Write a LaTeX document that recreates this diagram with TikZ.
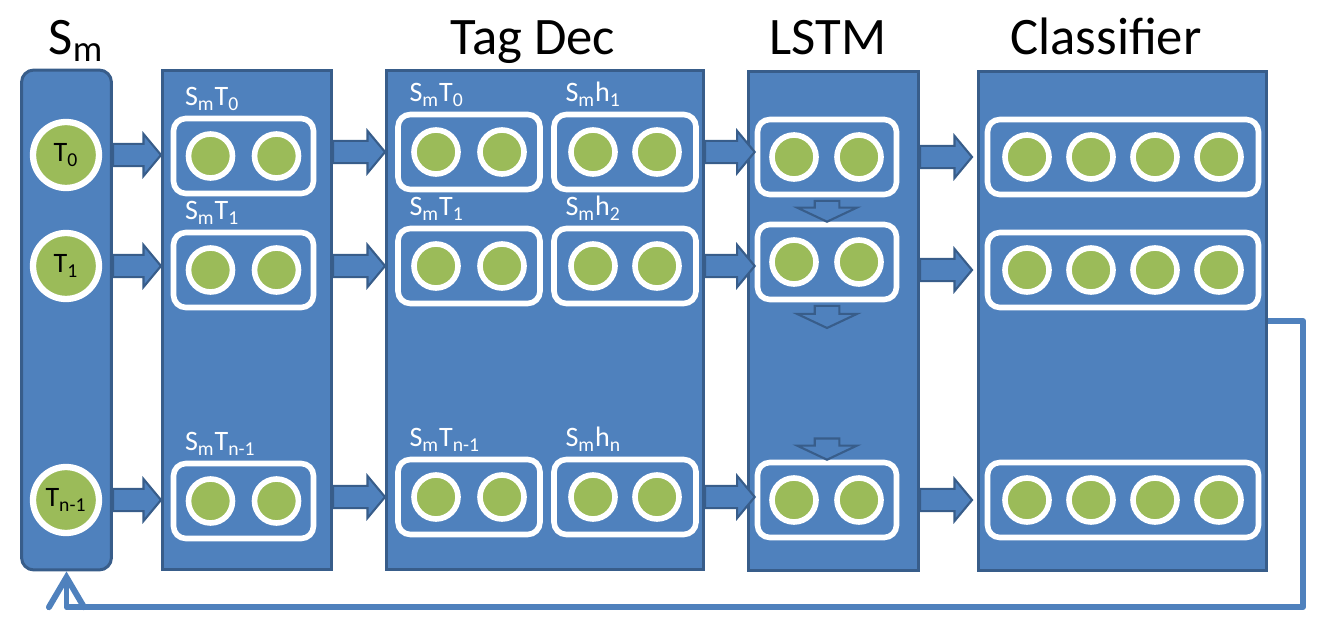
\documentclass[tikz,border=0pt]{standalone}
\usepackage{fontspec}
\setmainfont{Carlito}
\usetikzlibrary{arrows.meta,positioning,calc}
\definecolor{boxblue}{RGB}{79,129,189}
\definecolor{edgeblue}{RGB}{56,93,138}
\definecolor{dotgreen}{RGB}{155,187,89}

\begin{document}
\begin{tikzpicture}[
    x=0.02cm, y=-0.02cm,
    stage/.style={rectangle, draw=edgeblue, fill=boxblue, line width=1.7pt,
                  minimum height=10cm, inner sep=0pt},
    cell/.style={rectangle, draw=white, fill=boxblue, line width=3.2pt,
                 rounded corners=7pt, minimum height=1.5cm, inner sep=0pt},
    neuron/.style={circle, draw=white, fill=dotgreen, line width=3.2pt,
                   minimum size=0.88cm, inner sep=0pt},
    bigneuron/.style={neuron, line width=3.6pt, minimum size=1.32cm,
                      font=\fontsize{16}{16}\selectfont},
    ttl/.style={font=\fontsize{30}{30}\selectfont, anchor=base, inner sep=0pt},
    lbl/.style={text=white, font=\fontsize{16}{16}\selectfont, anchor=base west, inner sep=0pt},
    blockarr/.style={draw=edgeblue, fill=boxblue, line width=1.2pt,
      to path={let \p1=(\tikztostart), \p2=(\tikztotarget) in
        (\x1,\y1+6.3pt) -- (\x2-10pt,\y1+6.3pt) -- (\x2-10pt,\y1+12pt) -- (\x2,\y1)
        -- (\x2-10pt,\y1-12pt) -- (\x2-10pt,\y1-6.3pt) -- (\x1,\y1-6.3pt) -- cycle}},
    downarr/.style={draw=edgeblue, fill=boxblue, line width=1.2pt,
      to path={let \p1=(\tikztostart), \p2=(\tikztotarget) in
        (\x1-7pt,\y1-2pt) -- (\x1+7pt,\y1-2pt) -- (\x1+7pt,\y2+8pt) -- (\x1+17pt,\y2+8pt)
        -- (\x1,\y2) -- (\x1-17pt,\y2+8pt) -- (\x1-7pt,\y2+8pt) -- cycle}},
    fb/.style={draw=boxblue, line width=3.4pt, line join=round,
               -{Straight Barb[length=17pt,width=20pt,line cap=round]}}
  ]
    \useasboundingbox (0,0) rectangle (1325,631);

    % columns
    \node[stage, minimum width=1.8cm, rounded corners=7pt] (sm) at (66.5,320) {};
    \node[stage, minimum width=3.38cm] (enc) at (247,320) {};
    \node[stage, minimum width=6.34cm] (dec) at (545,320) {};
    \node[stage, minimum width=3.4cm] (lstm) at (833.5,321) {};
    \node[stage, minimum width=5.76cm] (cls) at (1122.5,321) {};

    % titles
    \node[ttl] (tsm) at (76,55) {S\textsubscript{m}};
    \node[ttl] (tdec) at (533,55) {Tag Dec};
    \node[ttl] (tlstm) at (828,55) {LSTM};
    \node[ttl] (tcls) at (1106,55) {Classifier};

    % input tags
    \foreach \r/\y/\i in {0/155/0, 1/266/1, 2/500/{n-1}} {
      \node[bigneuron] (t\r) at (66,\y) {T\textsubscript{\i}};
    }

    % tag encodings
    \foreach \r/\y/\i in {0/156/0, 1/270/1, 2/501/{n-1}} {
      \node[cell, minimum width=2.8cm] (e\r) at (243.5,\y) {};
      \node[neuron] (e\r-1) at ($(e\r.center)+(-33,0)$) {};
      \node[neuron] (e\r-2) at ($(e\r.center)+(33,0)$) {};
      \node[lbl] (el\r) at ([xshift=0.28cm,yshift=0.2cm]e\r.north west) {S\textsubscript{m}T\textsubscript{\i}};
    }

    % tag decoder
    \foreach \r/\y/\i/\h in {0/152/0/1, 1/266/1/2, 2/497/{n-1}/n} {
      \node[cell, minimum width=2.84cm] (d\r) at (469,\y) {};
      \node[cell, minimum width=2.84cm] (h\r) at (625,\y) {};
      \node[neuron] (d\r-1) at ($(d\r.center)+(-33,0)$) {};
      \node[neuron] (d\r-2) at ($(d\r.center)+(33,0)$) {};
      \node[neuron] (h\r-1) at ($(h\r.center)+(-32,0)$) {};
      \node[neuron] (h\r-2) at ($(h\r.center)+(32,0)$) {};
      \node[lbl] (dl\r) at ([xshift=0.28cm,yshift=0.2cm]d\r.north west) {S\textsubscript{m}T\textsubscript{\i}};
      \node[lbl] (hl\r) at ([xshift=0.28cm,yshift=0.2cm]h\r.north west) {S\textsubscript{m}h\textsubscript{\h}};
    }

    % lstm
    \foreach \r/\y in {0/157, 1/262, 2/500} {
      \node[cell, minimum width=2.78cm] (l\r) at (827,\y) {};
      \node[neuron] (l\r-1) at ($(l\r.center)+(-33,0)$) {};
      \node[neuron] (l\r-2) at ($(l\r.center)+(32,0)$) {};
    }

    % classifier
    \foreach \r/\y in {0/157, 1/270, 2/500} {
      \node[cell, minimum width=5.42cm] (c\r) at (1123,\y) {};
      \foreach \k/\dx in {1/-96, 2/-32, 3/32, 4/96}
        \node[neuron] (c\r-\k) at ($(c\r.center)+(\dx,0)$) {};
    }

    % block arrows
    \foreach \r in {0,1,2} {
      \draw[blockarr] (sm.east |- t\r.center) to (enc.west |- t\r.center);
      \draw[blockarr] (enc.east |- d\r.center) to (dec.west |- d\r.center);
      \draw[blockarr] (dec.east |- d\r.center) to (l\r.west);
      \draw[blockarr] (lstm.east |- c\r.center) to ([xshift=-0.1cm]cls.west |- c\r.center);
    }

    \coordinate (l1out) at (827,328);
    \coordinate (l2in) at (827,435);
    \draw[downarr] (l0.south) to (l1.north);
    \draw[downarr] (l1.south) to (l1out);
    \draw[downarr] (l2in) to (l2.north);

    % feedback
    \coordinate (fbturn) at (1303,607);
    \draw[fb] (cls.east) -| (fbturn) -| (sm.south);
  \end{tikzpicture}
\end{document}
